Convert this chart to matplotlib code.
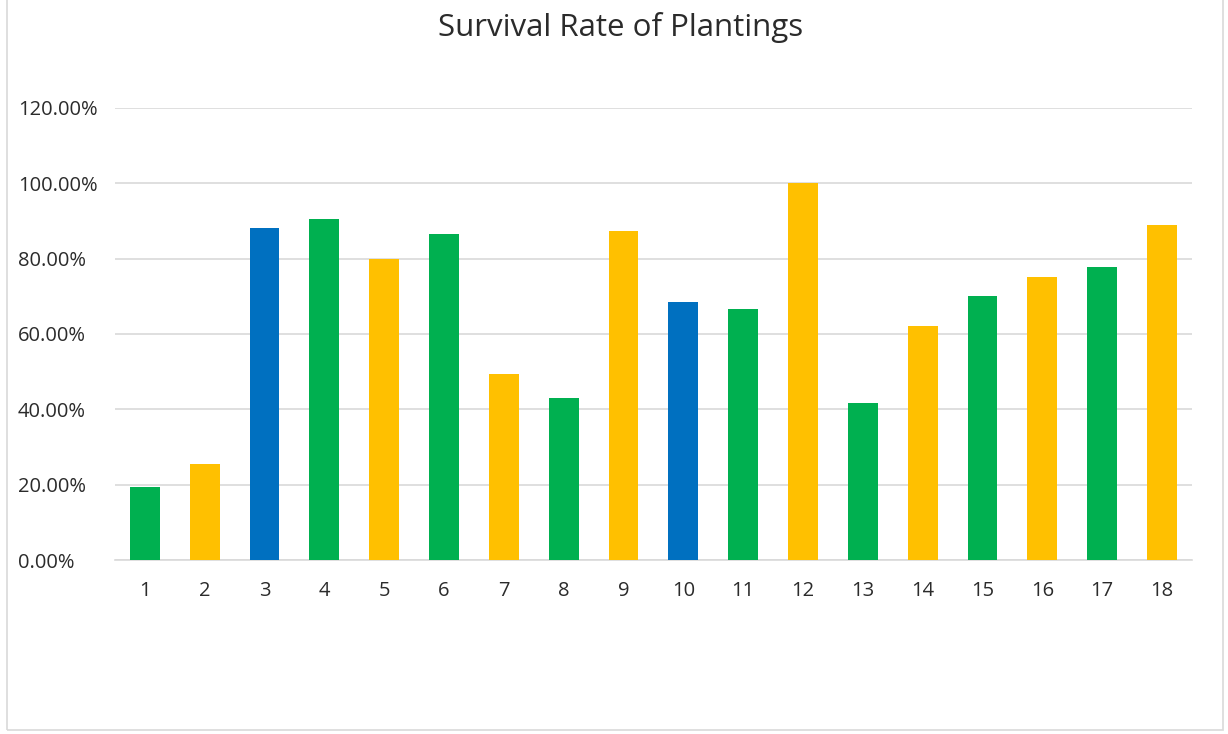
import matplotlib
matplotlib.use("Agg")
import matplotlib.pyplot as plt
from matplotlib.patches import Rectangle
from matplotlib.ticker import PercentFormatter

plt.rcParams['font.family'] = ['Open Sans', 'DejaVu Sans']

# survival rate per planting
plantings = [str(i) for i in range(1, 19)]
rates = [0.194, 0.256, 0.882, 0.905, 0.800, 0.866, 0.493, 0.430, 0.873,
         0.684, 0.667, 1.000, 0.418, 0.620, 0.702, 0.750, 0.778, 0.889]
groups = ['g', 'y', 'b', 'g', 'y', 'g', 'y', 'g', 'y',
          'b', 'g', 'y', 'g', 'y', 'g', 'y', 'g', 'y']
palette = {'g': '#00B050', 'y': '#FFC000', 'b': '#0070C0'}

fig = plt.figure(figsize=(12.28, 7.34), dpi=100)
ax = fig.add_axes([0.0936, 0.237, 0.877, 0.616])

x = range(1, len(rates) + 1)
ax.bar(x, rates, width=0.5, color=[palette[g] for g in groups], zorder=3)

ax.set_xlim(0.5, 18.5)
ax.set_ylim(0, 1.2)
ax.set_yticks([0, 0.2, 0.4, 0.6, 0.8, 1.0, 1.2])
ax.yaxis.set_major_formatter(PercentFormatter(1.0, decimals=2))
ax.set_xticks(list(x))
ax.set_xticklabels(plantings)
ax.grid(axis='y', color='#D9D9D9', linewidth=1.2, zorder=0)
for s in ['top', 'right', 'left']:
    ax.spines[s].set_visible(False)
ax.spines['bottom'].set_color('#D9D9D9')
ax.spines['bottom'].set_linewidth(1.2)
ax.tick_params(length=0, labelsize=14.5, colors='#2b2b2b')
ax.tick_params(axis='x', pad=15)
ax.tick_params(axis='y', pad=70)
for lab in ax.get_yticklabels():
    lab.set_horizontalalignment('left')

fig.text(0.505, 0.962, 'Survival Rate of Plantings', ha='center', va='center',
         fontsize=22.5, color='#2b2b2b')

fig.patches.append(Rectangle((0.006, 0.005), 0.99, 1.2, transform=fig.transFigure,
                             fill=False, edgecolor='#D9D9D9', linewidth=1.2))

fig.savefig('out.png', dpi=100)
